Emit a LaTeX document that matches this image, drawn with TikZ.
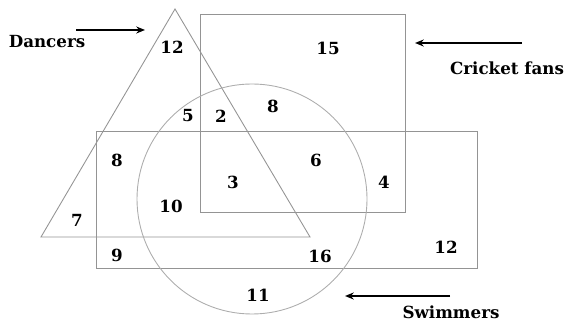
\documentclass[tikz,border=0pt]{standalone}
\usepackage{fontspec}
\setmainfont{DejaVu Serif}
\usetikzlibrary{arrows.meta}
\tikzset{
  setline/.style={draw=black!42, line width=0.5pt},
  num/.style={font=\bfseries\fontsize{9.5}{10}\selectfont},
  setname/.style={font=\bfseries\fontsize{9.5}{11}\selectfont},
  pointer/.style={-{Stealth[length=5pt,width=4pt]}, line width=0.8pt},
}
\begin{document}
\begin{tikzpicture}[x=0.02cm,y=-0.02cm]
\useasboundingbox (0,0) rectangle (570,323);
\draw[setline] (175,9) -- (41,237) -- (310,237) -- cycle;
\draw[setline] (200,14) rectangle (405,212);
\draw[setline] (96,131) rectangle (477,268);
\draw[setline, draw=black!32] (252,199) circle [radius=115];
\node[setname] (dancers) at (47,42) {Dancers};
\node[setname] (cricket) at (507,68) {Cricket fans};
\node[setname] (swim) at (451,312) {Swimmers};
\coordinate (dtail) at (76,30);
\coordinate (dhead) at (145,30);
\coordinate (ctail) at (522,43);
\coordinate (chead) at (415,43);
\coordinate (stail) at (450,296);
\coordinate (shead) at (345,296);
\draw[pointer] (dtail) -- (dhead);
\draw[pointer] (ctail) -- (chead);
\draw[pointer] (stail) -- (shead);
\node[num] (n1) at (172,47) {12};
\node[num] (n2) at (328,48) {15};
\node[num] (n3) at (188,116) {5};
\node[num] (n4) at (221,116) {2};
\node[num] (n5) at (273,106) {8};
\node[num] (n6) at (117,160) {8};
\node[num] (n7) at (316,160) {6};
\node[num] (n8) at (233,182) {3};
\node[num] (n9) at (384,182) {4};
\node[num] (n10) at (171,206) {10};
\node[num] (n11) at (77,220) {7};
\node[num] (n12) at (117,255) {9};
\node[num] (n13) at (320,256) {16};
\node[num] (n14) at (446,247) {12};
\node[num] (n15) at (258,295) {11};
\end{tikzpicture}
\end{document}
